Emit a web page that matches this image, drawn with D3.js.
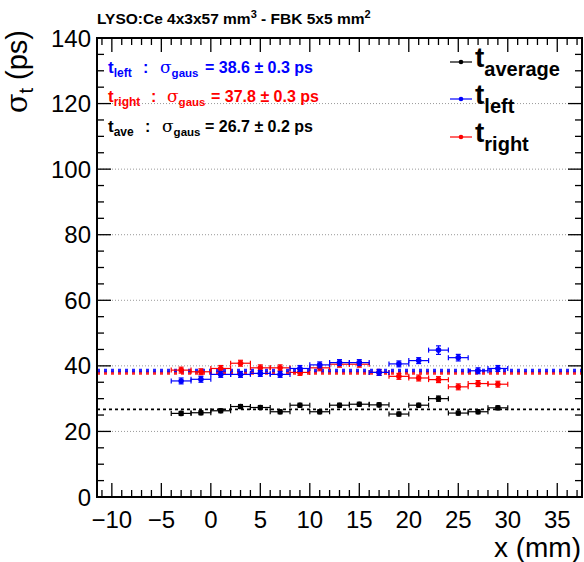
<!DOCTYPE html>
<html><head><meta charset="utf-8">
<script src="https://cdn.jsdelivr.net/npm/d3@7"></script>
<style>body{margin:0;background:#fff}svg{display:block}text{font-family:"Liberation Sans",Arial,sans-serif}</style>
</head><body><svg id="c" width="584" height="562"></svg>
<script>
const xs      = [-3,-1,1,3,5,7,9,11,13,15,17,19,21,23,25,27,29];
const tAve    = [25.5,25.7,26.3,27.6,27.3,26.0,28.0,26.0,28.0,28.3,28.1,25.3,28.0,30.0,25.6,26.0,27.2];
const tAveErr = [0.6,0.6,0.6,0.6,0.6,0.6,0.6,0.6,0.6,0.6,0.6,0.6,0.6,0.8,0.6,0.6,0.6];
const tLeft   = [35.4,35.9,37.4,37.4,37.7,37.4,39.2,40.3,41.0,41.0,38.0,40.6,41.6,44.8,42.5,38.5,39.2];
const tLeftErr= [0.9,0.9,0.9,0.9,0.9,0.9,0.9,0.9,0.9,0.9,0.9,0.9,0.9,1.3,1.0,0.9,0.9];
const tRight  = [38.7,38.2,39.2,40.8,39.4,39.4,38.0,39.4,40.5,40.5,38.0,36.8,36.3,35.8,33.6,34.6,34.4];
const tRightErr=[0.9,0.9,0.9,0.9,0.9,0.9,0.9,0.9,0.9,0.9,0.9,0.9,0.9,0.9,0.9,0.9,0.9];
const xErr = 1;
const fitAve = 26.7, fitLeft = 38.6, fitRight = 37.8;
const xTicks = [-10,-5,0,5,10,15,20,25,30,35];
const yTicks = [0,20,40,60,80,100,120,140];

const svg = d3.select("#c");
const L=97,R=582,T=38,B=497;
const x = d3.scaleLinear().domain([-11.5,37.5]).range([L,R]);
const y = d3.scaleLinear().domain([0,140]).range([B,T]);

// grid
svg.append("g").selectAll("line").data(yTicks.filter(v=>v>0&&v<140)).join("line")
  .attr("x1",L).attr("x2",R).attr("y1",d=>y(d)).attr("y2",d=>y(d))
  .attr("stroke","#999").attr("stroke-width",1).attr("stroke-dasharray","1,2");

// fit lines
const fits=[{v:fitAve,c:"#000",w:1.8,d:"3,3"},{v:fitRight,c:"#ff0000",w:3.5,d:"3,4"},{v:fitLeft,c:"#0000ff",w:3.5,d:"3,4"}];
svg.append("g").selectAll("line").data(fits).join("line")
  .attr("x1",L).attr("x2",R).attr("y1",d=>y(d.v)).attr("y2",d=>y(d.v))
  .attr("stroke",d=>d.c).attr("stroke-width",d=>d.w).attr("stroke-dasharray",d=>d.d).attr("opacity",d=>d.c==="#000"?1:0.85);

// series
function series(vals,errs,col){
  const g=svg.append("g").attr("stroke",col).attr("fill",col);
  const pts=xs.map((xv,i)=>({x:xv,y:vals[i],e:errs[i]}));
  const cap=2.5;
  pts.forEach(p=>{
    const px=x(p.x), py=y(p.y), x0=x(p.x-xErr), x1=x(p.x+xErr), y0=y(p.y-p.e), y1=y(p.y+p.e);
    g.append("line").attr("x1",x0).attr("x2",x1).attr("y1",py).attr("y2",py).attr("stroke-width",1.2);
    g.append("line").attr("x1",x0).attr("x2",x0).attr("y1",py-cap).attr("y2",py+cap).attr("stroke-width",1.2);
    g.append("line").attr("x1",x1).attr("x2",x1).attr("y1",py-cap).attr("y2",py+cap).attr("stroke-width",1.2);
    g.append("line").attr("x1",px).attr("x2",px).attr("y1",y0).attr("y2",y1).attr("stroke-width",1.2);
    g.append("line").attr("x1",px-cap).attr("x2",px+cap).attr("y1",y0).attr("y2",y0).attr("stroke-width",1.2);
    g.append("line").attr("x1",px-cap).attr("x2",px+cap).attr("y1",y1).attr("y2",y1).attr("stroke-width",1.2);
    g.append("circle").attr("cx",px).attr("cy",py).attr("r",2.8).attr("stroke","none");
  });
}
series(tAve,tAveErr,"#000");
series(tRight,tRightErr,"#ff0000");
series(tLeft,tLeftErr,"#0000ff");

// frame
svg.append("rect").attr("x",L).attr("y",T).attr("width",R-L).attr("height",B-T)
  .attr("fill","none").attr("stroke","#000").attr("stroke-width",2);

// ticks
const ax=svg.append("g").attr("stroke","#000").attr("stroke-width",1.3);
d3.range(-11,38,1).forEach(v=>{
  const major=v%5===0, len=major?14:7, px=x(v);
  ax.append("line").attr("x1",px).attr("x2",px).attr("y1",B).attr("y2",B-len);
  ax.append("line").attr("x1",px).attr("x2",px).attr("y1",T).attr("y2",T+len);
});
d3.range(0,141,5).forEach(v=>{
  const major=v%20===0, len=major?14:7, py=y(v);
  ax.append("line").attr("x1",L).attr("x2",L+len).attr("y1",py).attr("y2",py);
  ax.append("line").attr("x1",R).attr("x2",R-len).attr("y1",py).attr("y2",py);
});

// tick labels
svg.append("g").selectAll("text").data(xTicks).join("text")
  .attr("x",d=>x(d)).attr("y",528).attr("text-anchor","middle")
  .attr("font-size",24).text(d=>d<0?"\u2212"+Math.abs(d):d);
svg.append("g").selectAll("text").data(yTicks).join("text")
  .attr("x",91).attr("y",d=>y(d)+8.5).attr("text-anchor","end")
  .attr("font-size",24).text(d=>d);

// axis titles
svg.append("text").attr("x",581).attr("y",557).attr("text-anchor","end").attr("font-size",28).text("x (mm)");
const yt=svg.append("text")
  .attr("transform","translate(27,30) rotate(-90)").attr("text-anchor","end").attr("font-size",29);
yt.append("tspan").attr("font-family","DejaVu Serif, serif").text("\u03c3");
yt.append("tspan").attr("font-size",20).attr("dy",6).text("t");
yt.append("tspan").attr("dy",-6).text(" (ps)");

// title
const tt=svg.append("text").attr("x",97).attr("y",24).attr("font-size",15.5).attr("font-weight","bold");
tt.append("tspan").text("LYSO:Ce 4x3x57 mm");
tt.append("tspan").attr("font-size",11).attr("dy",-6).text("3");
tt.append("tspan").attr("dy",6).text(" - FBK 5x5 mm");
tt.append("tspan").attr("font-size",11).attr("dy",-6).text("2");

// annotations
const ann=[
  {sub:"left", col:"#0000ff", val:"= 38.6 \u00b1 0.3 ps", yb:73, colon:143, sig:160, eq:205},
  {sub:"right",col:"#ff0000", val:"= 37.8  \u00b1 0.3 ps", yb:102, colon:151, sig:167, eq:211},
  {sub:"ave",  col:"#000",    val:"= 26.7 \u00b1 0.2 ps", yb:132, colon:145, sig:162, eq:205}
];
ann.forEach(a=>{
  const g=svg.append("g").attr("fill",a.col).attr("font-size",16).attr("font-weight","bold");
  const t1=g.append("text").attr("x",108).attr("y",a.yb);
  t1.append("tspan").attr("font-size",17).text("t");
  t1.append("tspan").attr("font-size",12).attr("dy",4).text(a.sub);
  g.append("text").attr("x",a.colon).attr("y",a.yb).text(":");
  const t2=g.append("text").attr("x",a.sig).attr("y",a.yb);
  t2.append("tspan").attr("font-family","DejaVu Serif, serif").attr("font-weight","normal").attr("font-size",17).text("\u03c3");
  t2.append("tspan").attr("font-size",11.5).attr("dy",4).text("gaus");
  g.append("text").attr("x",a.eq).attr("y",a.yb).text(a.val);
});

// legend
const leg=[{lab:"average",col:"#000",yy:62},{lab:"left",col:"#0000ff",yy:99},{lab:"right",col:"#ff0000",yy:137}];
leg.forEach(l=>{
  svg.append("line").attr("x1",450).attr("x2",472).attr("y1",l.yy).attr("y2",l.yy).attr("stroke",l.col).attr("stroke-width",1.2);
  svg.append("circle").attr("cx",461).attr("cy",l.yy).attr("r",2.3).attr("fill",l.col);
  const t=svg.append("text").attr("x",475).attr("y",l.yy+5).attr("font-size",28).attr("font-weight","bold").attr("fill","#000");
  t.append("tspan").text("t");
  t.append("tspan").attr("font-size",20).attr("dy",9).text(l.lab);
});
</script></body></html>
